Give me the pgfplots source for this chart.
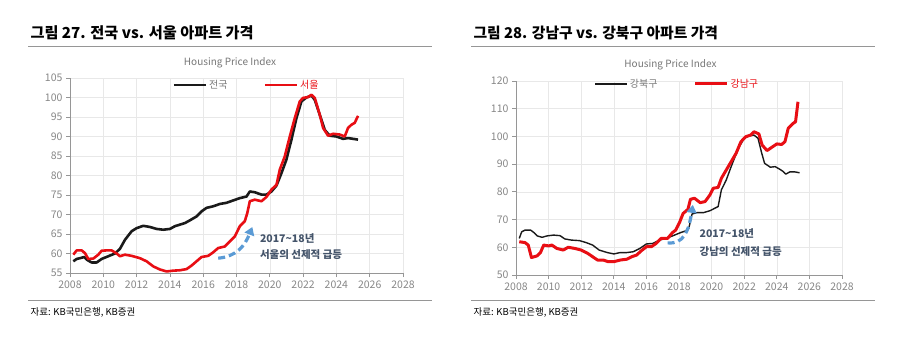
\documentclass[border=0pt]{standalone}
\usepackage{pgfplots}
\pgfplotsset{compat=1.18}
\usepackage{fontspec}
\setmainfont{Noto Sans CJK KR}
\usetikzlibrary{arrows.meta}
\definecolor{sred}{RGB}{232,14,20}
\definecolor{sblack}{RGB}{26,26,26}
\definecolor{gridc}{RGB}{232,232,232}
\definecolor{axc}{RGB}{150,150,150}
\definecolor{tickc}{RGB}{135,135,135}
\definecolor{legc}{RGB}{118,118,118}
\definecolor{annc}{RGB}{68,84,106}
\definecolor{arrc}{RGB}{91,155,213}
\definecolor{rulec}{RGB}{150,150,150}
\pgfplotsset{
  myaxis/.style={
    scale only axis,
    axis x line*=bottom, axis y line*=left,
    axis line style={axc, line width=0.8pt},
    grid=major, grid style={gridc, line width=0.6pt},
    xmin=2008, xmax=2028, xtick={2008,2010,...,2028},
    tick style={axc, line width=0.8pt},
    tick align=outside, major tick length=4pt,
    ticklabel style={font=\fontsize{10.5}{12}\selectfont, text=tickc},
    /pgf/number format/1000 sep={},
    /pgf/number format/assume math mode=true,
    clip=false,
    legend columns=2,
    legend style={draw=none, fill=none, font=\fontsize{10}{12}\selectfont,
      /tikz/every even column/.append style={column sep=34pt},
      inner sep=0pt},
    legend cell align=left,
    legend image code/.code={\draw[#1] (0pt,0pt) -- (32pt,0pt);},
  }
}
\begin{document}
\begin{tikzpicture}[x=1pt,y=1pt]
\path[use as bounding box] (0,0) rectangle (900,343);
% titles and rules
\node[anchor=west, font=\fontsize{15.2}{17}\selectfont\bfseries] at (27,310) {그림 27. 전국 vs. 서울 아파트 가격};
\node[anchor=west, font=\fontsize{14.8}{17}\selectfont\bfseries] at (470,310) {그림 28. 강남구 vs. 강북구 아파트 가격};
\draw[rulec, line width=0.8pt] (28,297) -- (432,297);
\draw[rulec, line width=0.8pt] (471,297) -- (875,297);
\draw[rulec, line width=0.8pt] (28,42.5) -- (432,42.5);
\draw[rulec, line width=0.8pt] (471,42.5) -- (875,42.5);
\node[anchor=west, font=\fontsize{9.5}{11}\selectfont] at (27,31) {자료: KB국민은행, KB증권};
\node[anchor=west, font=\fontsize{9.5}{11}\selectfont] at (470,31) {자료: KB국민은행, KB증권};
\node[font=\fontsize{10}{12}\selectfont, text=legc] at (230,280.5) {Housing Price Index};
\node[font=\fontsize{10}{12}\selectfont, text=legc] at (670.5,278) {Housing Price Index};

% left chart
\begin{axis}[myaxis, at={(70pt,70pt)}, anchor=south west, width=333pt, height=195pt,
  ymin=55, ymax=105, ytick={55,60,...,105},
  legend style={at={(0.53,0.964)}, anchor=center}]
\addplot[sblack, line width=2.6pt, line join=round] coordinates {
(2008.2,58.0) (2008.4,58.6) (2008.6,58.8) (2008.85,59.1) (2009.05,58.3) (2009.3,57.7)
(2009.6,57.7) (2009.9,58.6) (2010.3,59.3) (2010.7,60.0) (2011.0,61.2) (2011.3,63.5)
(2011.7,65.7) (2012.0,66.5) (2012.4,67.1) (2012.8,66.8) (2013.2,66.3) (2013.6,66.1)
(2014.0,66.3) (2014.3,67.0) (2014.6,67.4) (2014.9,67.8) (2015.2,68.5) (2015.6,69.5)
(2015.9,70.8) (2016.2,71.7) (2016.6,72.1) (2017.0,72.7) (2017.4,73.0) (2017.8,73.6)
(2018.2,74.2) (2018.6,74.6) (2018.8,75.9) (2019.1,75.7) (2019.5,75.1) (2019.8,75.1)
(2020.1,75.9) (2020.4,77.4) (2020.7,80.6) (2021.0,84.1) (2021.3,89.2) (2021.6,94.7)
(2021.9,99.0) (2022.2,100.0) (2022.5,100.5) (2022.7,99.4) (2023.0,95.6) (2023.3,91.7)
(2023.6,90.2) (2024.0,90.0) (2024.4,89.4) (2024.7,89.6) (2025.0,89.4) (2025.3,89.2)
};
\addlegendentry{\textcolor{legc}{전국}}
\addplot[sred, line width=2.6pt, line join=round] coordinates {
(2008.2,59.7) (2008.4,60.8) (2008.7,60.8) (2008.9,60.1) (2009.1,58.6) (2009.4,58.7)
(2009.7,59.7) (2009.9,60.7) (2010.2,60.8) (2010.5,60.8) (2010.8,60.0) (2011.0,59.3)
(2011.3,59.7) (2011.7,59.4) (2012.2,58.8) (2012.6,58.0) (2013.0,56.7) (2013.4,55.9)
(2013.8,55.4) (2014.2,55.6) (2014.6,55.7) (2015.0,56.0) (2015.3,56.9) (2015.6,58.0)
(2015.9,59.1) (2016.3,59.4) (2016.6,60.3) (2016.9,61.4) (2017.3,61.8) (2017.6,63.1)
(2017.9,64.4) (2018.2,67.0) (2018.5,68.3) (2018.65,70.4) (2018.8,73.4) (2019.1,73.8)
(2019.5,73.4) (2019.8,74.5) (2020.1,76.4) (2020.4,77.6) (2020.6,81.5) (2020.9,84.9)
(2021.2,90.0) (2021.5,94.7) (2021.8,99.0) (2022.0,99.9) (2022.3,100.1) (2022.5,100.7)
(2022.7,99.9) (2023.0,95.6) (2023.2,92.2) (2023.5,90.2) (2023.8,90.7) (2024.2,90.5)
(2024.5,90.0) (2024.7,92.2) (2024.9,93.0) (2025.1,93.5) (2025.3,95.3)
};
\addlegendentry{\textcolor{sred}{서울}}
\draw[arrc, line width=3.2pt, dash pattern=on 7pt off 4pt, -{Triangle[length=8pt,width=10pt]}]
  (axis cs:2016.9,58.8) .. controls (axis cs:2018.0,59.2) and (axis cs:2018.5,62.0) .. (axis cs:2018.95,66.8);
\node[anchor=west, text=annc, font=\fontsize{10.5}{13}\selectfont\bfseries] at (axis cs:2019.2,63.9) {2017\textasciitilde18년};
\node[anchor=west, text=annc, font=\fontsize{10.5}{13}\selectfont\bfseries] at (axis cs:2019.2,59.8) {서울의 선제적 급등};
\end{axis}

% right chart
\begin{axis}[myaxis, at={(516pt,68pt)}, anchor=south west, width=326pt, height=194pt,
  ymin=50, ymax=120, ytick={50,60,...,120},
  legend style={at={(0.495,0.985)}, anchor=center}]
\addplot[sblack, line width=1.4pt, line join=round] coordinates {
(2008.2,63.2) (2008.35,65.6) (2008.55,66.2) (2008.9,66.2) (2009.1,65.3) (2009.3,64.1)
(2009.6,63.6) (2009.9,64.1) (2010.3,64.4) (2010.7,64.2) (2011.0,63.0) (2011.4,62.6)
(2011.9,62.4) (2012.3,61.7) (2012.7,60.8) (2013.1,59.0) (2013.6,58.1) (2014.0,57.6)
(2014.4,58.1) (2014.8,58.1) (2015.2,58.4) (2015.6,59.6) (2016.0,61.2) (2016.4,61.4)
(2016.8,62.6) (2017.2,63.2) (2017.6,64.1) (2018.1,65.3) (2018.4,65.9) (2018.6,66.8)
(2018.8,72.0) (2019.1,72.5) (2019.5,72.5) (2019.9,73.2) (2020.2,74.1) (2020.4,74.7)
(2020.6,80.7) (2020.9,84.3) (2021.2,89.1) (2021.4,92.1) (2021.7,96.3) (2022.0,99.3)
(2022.3,100.2) (2022.6,100.5) (2022.85,99.3) (2023.05,94.5) (2023.25,90.3) (2023.6,88.9)
(2023.9,89.1) (2024.2,88.1) (2024.4,87.3) (2024.55,86.4) (2024.8,87.2) (2025.1,87.2)
(2025.4,86.9)
};
\addlegendentry{\textcolor{legc}{강북구}}
\addplot[sred, line width=3pt, line join=round] coordinates {
(2008.2,62.0) (2008.55,61.7) (2008.75,60.8) (2008.95,56.3) (2009.3,56.9) (2009.5,58.1)
(2009.7,60.8) (2010.0,60.5) (2010.2,60.8) (2010.5,59.6) (2010.9,59.0) (2011.2,60.0)
(2011.6,59.6) (2012.0,59.0) (2012.4,57.8) (2012.7,56.6) (2013.0,55.4) (2013.35,55.4)
(2013.65,54.8) (2014.0,54.8) (2014.4,55.4) (2014.8,55.7) (2015.1,56.6) (2015.4,57.2)
(2015.7,58.8) (2016.0,60.2) (2016.3,60.2) (2016.6,61.4) (2016.9,63.2) (2017.3,63.2)
(2017.6,65.3) (2017.8,66.2) (2018.05,69.2) (2018.25,72.2) (2018.55,73.7) (2018.7,77.3)
(2018.95,77.7) (2019.3,76.1) (2019.6,76.5) (2019.9,78.9) (2020.1,81.3) (2020.4,81.6)
(2020.6,84.9) (2020.9,87.9) (2021.2,90.9) (2021.5,93.9) (2021.8,98.1) (2022.1,99.9)
(2022.4,100.5) (2022.6,101.7) (2022.9,100.9) (2023.1,96.9) (2023.4,94.9) (2023.7,96.1)
(2024.0,97.3) (2024.3,97.1) (2024.5,98.1) (2024.7,102.9) (2025.0,104.7) (2025.15,105.3)
(2025.3,112.5)
};
\addlegendentry{\textcolor{sred}{강남구}}
\draw[arrc, line width=3.2pt, dash pattern=on 7pt off 4pt, -{Triangle[length=8pt,width=10pt]}]
  (axis cs:2017.3,61.6) .. controls (axis cs:2018.3,61.0) and (axis cs:2018.6,66.0) .. (axis cs:2018.85,75.3);
\node[anchor=west, text=annc, font=\fontsize{10.5}{13}\selectfont\bfseries] at (axis cs:2019.05,65.1) {2017\textasciitilde18년};
\node[anchor=west, text=annc, font=\fontsize{10.5}{13}\selectfont\bfseries] at (axis cs:2019.05,58.6) {강남의 선제적 급등};
\end{axis}
\end{tikzpicture}
\end{document}
